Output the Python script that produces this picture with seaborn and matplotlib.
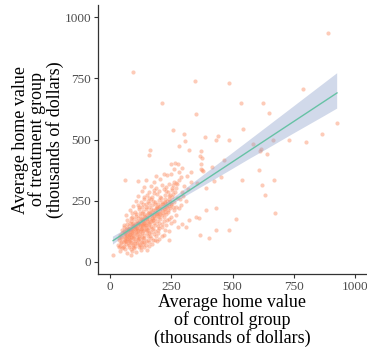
import matplotlib
matplotlib.use("Agg")
import matplotlib.pyplot as plt
import seaborn as sns
import pandas as pd

# control (x) and treatment (y) average home values, thousands of dollars
control = [
    41, 61, 96, 116, 137, 75, 50, 88, 105, 125, 68, 150,
    30, 45, 55, 65, 78, 90, 100, 110, 120, 135, 148, 160, 85, 58, 172, 40,
    35, 48, 60, 70, 80, 92, 102, 115, 125, 140, 155, 168, 185, 75, 110, 200, 130,
    42, 55, 66, 76, 88, 98, 108, 118, 128, 140, 150, 162, 178, 195, 210, 85, 120, 60,
    50, 64, 72, 84, 95, 105, 114, 124, 134, 146, 156, 170, 184, 200, 222, 90, 130, 70, 240,
    58, 75, 88, 100, 112, 122, 135, 145, 158, 168, 180, 196, 212, 230, 250, 95, 140, 277, 292, 308, 80,
    70, 84, 98, 110, 124, 136, 150, 162, 176, 190, 205, 220, 240, 260, 321, 115, 170,
    65, 90, 105, 120, 138, 150, 165, 178, 192, 210, 228, 248, 270, 350, 365, 130, 200,
    80, 100, 118, 132, 148, 160, 175, 188, 204, 222, 238, 262, 280, 391, 432, 145,
    95, 112, 128, 145, 158, 172, 185, 200, 215, 232, 250, 268, 290, 160,
    105, 125, 140, 155, 168, 182, 198, 212, 226, 244, 262, 285, 310, 137,
    115, 150, 170, 190, 205, 222, 240, 258, 275, 298, 631, 180,
    130, 160, 178, 200, 218, 235, 252, 270, 295, 320, 391,
    140, 165, 186, 210, 228, 255, 272, 300, 355, 620, 240,
    112, 61, 145, 178, 205, 262, 270, 280, 424, 538, 671, 330,
    186, 219, 247, 313, 452, 283, 232, 290,
    332, 376, 370, 380, 262, 292, 610, 418, 250, 266, 279, 372,
    465, 374, 366, 372, 159, 615, 611, 642, 324, 164, 283, 585, 306, 432, 664, 484,
    731, 802, 387, 440, 302, 867, 257, 543,
    928, 350, 651, 213, 533, 625, 787, 347, 484, 93, 891,
    672, 513, 432, 487, 366, 403, 241, 11, 83,
    52, 72, 95, 112, 132, 148, 64, 82, 104, 118, 138, 158, 176, 46, 58, 76, 92, 108,
    126, 142, 160, 182, 196, 210, 68, 86, 104, 122, 140, 154, 168, 186, 200, 218, 234,
    96, 124, 84, 62, 44, 36, 102, 154, 166, 188, 114, 130, 150, 90, 116, 176, 196, 208,
    230, 252, 266, 246, 226, 190, 160, 134, 78, 70, 100, 120, 144, 56, 48, 88, 106, 128,
    176, 192, 220, 78, 92, 116, 140, 160, 34,
    60, 70, 80, 90, 100, 110, 120, 130, 140, 150, 160, 170, 180, 190, 200, 210, 220, 230, 240, 250,
    65, 75, 85, 95, 105, 115, 125, 135, 145, 155, 165, 175, 185, 195, 205, 215, 225, 235, 245, 255,
    62, 72, 82, 92, 102, 112, 122, 132, 142, 152, 162, 172, 182, 192, 202, 212, 222, 232, 242, 252,
]
treatment = [
    46, 51, 55, 60, 62, 62, 58, 44, 40, 48, 35, 50,
    70, 75, 66, 72, 68, 75, 66, 78, 70, 74, 68, 80, 80, 80, 72, 64,
    88, 92, 85, 95, 88, 98, 84, 92, 86, 96, 90, 98, 88, 100, 100, 95, 80,
    110, 104, 115, 108, 118, 106, 114, 104, 118, 108, 116, 104, 112, 118, 106, 102, 112, 118,
    128, 135, 124, 132, 126, 138, 126, 134, 124, 136, 128, 134, 126, 138, 130, 140, 140, 140, 125,
    150, 145, 155, 148, 158, 146, 154, 144, 156, 148, 158, 146, 155, 150, 158, 160, 160, 141, 154, 144, 158,
    170, 166, 175, 168, 176, 166, 174, 164, 172, 166, 176, 168, 174, 165, 171, 180, 180,
    190, 185, 195, 188, 196, 184, 192, 186, 198, 190, 196, 185, 192, 182, 180, 200, 182,
    210, 205, 214, 206, 216, 204, 212, 218, 208, 215, 205, 212, 218, 211, 218, 222,
    228, 234, 224, 236, 226, 232, 238, 225, 235, 228, 238, 225, 232, 240,
    250, 245, 256, 248, 258, 244, 254, 246, 258, 250, 244, 255, 248, 266,
    268, 272, 264, 276, 266, 274, 268, 278, 262, 270, 272, 280,
    290, 285, 295, 288, 298, 284, 292, 300, 286, 296, 300,
    305, 310, 302, 315, 305, 312, 318, 308, 322, 313, 320,
    330, 333, 333, 325, 338, 326, 322, 335, 331, 336, 336, 328,
    351, 360, 360, 351, 347, 366, 355, 345,
    369, 374, 378, 370, 381, 383, 377, 388, 401, 404, 401, 398,
    415, 423, 434, 453, 436, 463, 453, 442, 458, 459, 474, 480, 495, 496, 497, 500,
    500, 490, 509, 515, 523, 523, 539, 542,
    569, 604, 607, 649, 649, 648, 705, 738, 733, 778, 934,
    198, 173, 130, 130, 110, 98, 91, 28, 27,
    62, 78, 70, 88, 96, 84, 98, 112, 122, 96, 128, 118, 140, 100, 124, 132, 146, 140,
    158, 172, 142, 150, 130, 142, 156, 178, 186, 200, 188, 200, 214, 196, 160, 182, 170,
    92, 60, 54, 90, 82, 60, 76, 104, 122, 104, 150, 176, 130, 198, 224, 248, 238, 262,
    290, 300, 286, 272, 244, 224, 262, 236, 120, 108, 132, 124, 150, 142, 118, 128, 160, 102,
    90, 84, 110, 86, 62, 72, 80, 66, 96,
    100, 105, 112, 120, 135, 140, 150, 150, 160, 168, 175, 180, 190, 196, 200, 210, 215, 222, 228, 235,
    85, 95, 100, 110, 118, 128, 135, 145, 150, 160, 165, 172, 178, 188, 195, 200, 205, 212, 220, 225,
    120, 128, 135, 145, 150, 160, 168, 175, 185, 192, 198, 205, 210, 220, 228, 235, 242, 250, 258, 265,
]

x_ticks = [0, 250, 500, 750, 1000]
y_ticks = [0, 250, 500, 750, 1000]
x_label = "Average home value\nof control group\n(thousands of dollars)"
y_label = "Average home value\nof treatment group\n(thousands of dollars)"

df = pd.DataFrame({"control": control, "treatment": treatment})

sns.set_theme(style="ticks")
plt.rcParams["font.family"] = ["Liberation Serif", "DejaVu Serif"]

fig = plt.figure(figsize=(3.67, 3.49), dpi=100)
ax = fig.add_axes([98 / 367, 75 / 349, 269 / 367, 269 / 349])

sns.regplot(
    data=df, x="control", y="treatment", ax=ax, ci=95, seed=1,
    scatter_kws=dict(s=9, color="#FC8D62", alpha=0.45, linewidths=0),
    line_kws=dict(color="#66C2A5", lw=1.0),
)
for coll in ax.collections:
    if coll.__class__.__name__ in ("PolyCollection", "FillBetweenPolyCollection"):
        coll.set_facecolor("#8DA0CB")
        coll.set_alpha(0.4)
        coll.set_edgecolor("none")

ax.set_xlim(-50, 1050)
ax.set_ylim(-50, 1050)
ax.set_xticks(x_ticks)
ax.set_yticks(y_ticks)
ax.set_xticklabels([str(t) for t in x_ticks])
ax.set_yticklabels([str(t) for t in y_ticks])
ax.tick_params(axis="both", labelsize=9.5, labelcolor="#4D4D4D", color="#333333",
               length=3, width=0.8, pad=2)
ax.set_xlabel(x_label, fontsize=13, linespacing=1.0, labelpad=1, color="black")
ax.set_ylabel(y_label, fontsize=13, linespacing=1.0, labelpad=0, color="black")
for side in ("top", "right"):
    ax.spines[side].set_visible(False)
for side in ("left", "bottom"):
    ax.spines[side].set_color("#333333")
    ax.spines[side].set_linewidth(0.9)

fig.savefig("out.png", dpi=100)
